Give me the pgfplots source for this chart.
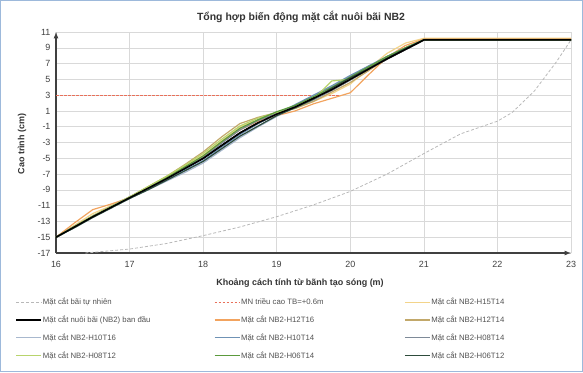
\documentclass[border=0pt]{standalone}
\usepackage{pgfplots}
\pgfplotsset{compat=1.18}
\usepackage{pgfplotstable}
\usepackage{fontspec}
\setmainfont{Liberation Sans}
\definecolor{frameblue}{HTML}{9DB9DB}
\definecolor{cNat}{HTML}{B8B8B8}
\definecolor{cMN}{HTML}{E8705A}
\definecolor{cA}{HTML}{F3D48A}
\definecolor{cB}{HTML}{F2A35E}
\definecolor{cC}{HTML}{C2A86A}
\definecolor{cD}{HTML}{A8B8CE}
\definecolor{cE}{HTML}{6F92B5}
\definecolor{cF}{HTML}{7E8A98}
\definecolor{cG}{HTML}{B8D46C}
\definecolor{cH}{HTML}{5B9A3C}
\definecolor{cI}{HTML}{2E4C3C}
\pgfplotstableread{
x      b     A     B     C     D     E     F     G     H     I
16     -15   -15   -15   -15   -15   -15   -15   -15   -15   -15
16.25 -13.7 -13.5 -13.2 -13.7 -13.8 -13.7 -13.6 -13.6 -13.7 -13.8
16.5  -12.4 -12.0 -11.5 -12.3 -12.5 -12.4 -12.3 -12.3 -12.4 -12.5
16.75 -11.2 -11.0 -10.8 -11.1 -11.3 -11.2 -11.1 -11.1 -11.2 -11.3
17    -10.0 -9.9 -10.0 -9.9 -10.1 -10.0 -9.9 -9.9 -10.0 -10.1
17.25 -8.8 -8.7 -8.8 -8.6 -9.0 -8.9 -8.7 -8.6 -8.8 -9.0
17.5  -7.6 -7.4 -7.5 -7.3 -7.9 -7.7 -7.5 -7.3 -7.5 -7.8
17.75 -6.3 -6.0 -6.2 -5.8 -6.8 -6.5 -6.2 -5.9 -6.1 -6.6
18    -5.0 -4.6 -4.8 -4.2 -5.6 -5.3 -4.9 -4.4 -4.7 -5.4
18.25 -3.4 -2.8 -3.0 -2.3 -4.0 -3.6 -3.1 -2.6 -2.9 -3.8
18.5  -1.8 -1.0 -1.4 -0.6 -2.4 -2.0 -1.4 -0.9 -1.2 -2.2
18.75 -0.5 -0.1 -0.3 0.2 -1.0 -0.6 -0.2 0.1 -0.1 -0.9
19     0.6 0.7 0.4 0.8 0.3 0.6 0.7 0.8 0.9 0.4
19.25  1.5 1.4 1.0 1.3 1.6 1.8 1.4 1.4 1.7 1.4
19.5   2.6 2.2 1.9 2.2 2.9 3.0 2.4 2.5 2.8 2.5
19.75  3.7 3.2 2.6 3.4 4.1 4.2 3.6 4.8 4.0 3.9
20     5.0 4.4 3.3 4.6 5.4 5.5 4.9 5.0 5.3 5.2
20.25  6.3 6.4 5.6 6.1 6.7 6.7 6.3 6.5 6.6 6.4
20.5   7.6 8.3 7.8 7.7 7.9 7.9 7.6 7.8 7.9 7.7
20.75  8.8 9.6 9.3 9.0 9.0 9.0 8.8 9.0 9.0 8.9
21     10 10.2 10.1 10 10 10 10 10 10 10
21.5   10 10.2 10.1 10 10 10 10 10 10 10
22     10 10.2 10.1 10 10 10 10 10 10 10
22.5   10 10.2 10.1 10 10 10 10 10 10 10
23     10 10.2 10.1 10 10 10 10 10 10 10
}\prof
\pgfplotstableread{
x y
16.4 -17
17 -16.5
17.5 -15.8
18 -14.8
18.5 -13.7
19 -12.4
19.5 -10.9
20 -9.2
20.5 -7.0
21 -4.4
21.5 -1.9
22 -0.3
22.2 0.8
22.5 3.5
22.8 7.2
23 10
}\nat
\pgfplotstableread{
x y
16 3
19.85 3
}\mnline
\begin{document}
\begin{tikzpicture}[x=1bp,y=1bp]
\draw[frameblue, line width=1.2bp] (0.6,0.6) rectangle (582.4,371.4);
\node[font=\bfseries\fontsize{10.5}{12}\selectfont, text=black!80] at (301,355) {Tổng hợp biến động mặt cắt nuôi bãi NB2};
\node[font=\bfseries\fontsize{9}{11}\selectfont, text=black!80] at (300,89) {Khoảng cách tính từ bãnh tạo sóng (m)};
\node[font=\bfseries\fontsize{9}{11}\selectfont, text=black!80, rotate=90] at (22,228) {Cao trình (cm)};
\begin{axis}[
  at={(56bp,119bp)}, anchor=south west,
  scale only axis, width=515bp, height=221bp,
  xmin=16, xmax=23, ymin=-17, ymax=11,
  xtick={16,...,23}, ytick={-17,-15,...,11},
  axis lines=left,
  axis line style={black!75, line width=1.2pt, -latex},
  grid=major, major grid style={black!15, line width=0.5pt},
  major tick length=0pt,
  /pgf/number format/assume math mode=true,
  tick label style={font=\fontsize{9}{11}\selectfont, text=black!75},
  xticklabel style={yshift=-5bp},
  yticklabel style={xshift=-2bp},
  clip=false,
  legend style={at={(-44bp,-42bp)}, anchor=north west, draw=none, fill=none,
    legend columns=3, font=\fontsize{7.8}{9}\selectfont, text=black!68,
    row sep=7.5bp, column sep=0bp, nodes={inner sep=1bp}},
  legend cell align=left,
  legend image code/.code={\draw[#1] (0bp,0bp) -- (25bp,0bp);},
]
\addplot[color=cNat, line width=0.8pt, densely dashed] table[x=x,y=y] {\nat};
\addlegendentry{\makebox[170bp][l]{Mặt cắt bãi tự nhiên}}
\addplot[color=cMN, line width=1pt, dash pattern=on 2.5bp off 1.5bp] table[x=x,y=y] {\mnline};
\addlegendentry{\makebox[162bp][l]{MN triều cao TB=+0.6m}}
\addplot[cA, line width=1.2pt] table[x=x,y=A] {\prof};
\addlegendentry{Mặt cắt NB2-H15T14}
\addplot[black, line width=1.8pt] table[x=x,y=b] {\prof};
\addlegendentry{Mặt cắt nuôi bãi (NB2) ban đầu}
\addplot[cB, line width=1.2pt] table[x=x,y=B] {\prof};
\addlegendentry{Mặt cắt NB2-H12T16}
\addplot[cC, line width=1.2pt] table[x=x,y=C] {\prof};
\addlegendentry{Mặt cắt NB2-H12T14}
\addplot[cD, line width=1.2pt] table[x=x,y=D] {\prof};
\addlegendentry{Mặt cắt NB2-H10T16}
\addplot[cE, line width=1.2pt] table[x=x,y=E] {\prof};
\addlegendentry{Mặt cắt NB2-H10T14}
\addplot[cF, line width=1.2pt] table[x=x,y=F] {\prof};
\addlegendentry{Mặt cắt NB2-H08T14}
\addplot[cG, line width=1.2pt] table[x=x,y=G] {\prof};
\addlegendentry{Mặt cắt NB2-H08T12}
\addplot[cH, line width=1.2pt] table[x=x,y=H] {\prof};
\addlegendentry{Mặt cắt NB2-H06T14}
\addplot[cI, line width=1.2pt] table[x=x,y=I] {\prof};
\addlegendentry{Mặt cắt NB2-H06T12}
\addplot[black, line width=1.5pt, forget plot] table[x=x,y=b] {\prof};
\end{axis}
\end{tikzpicture}
\end{document}
